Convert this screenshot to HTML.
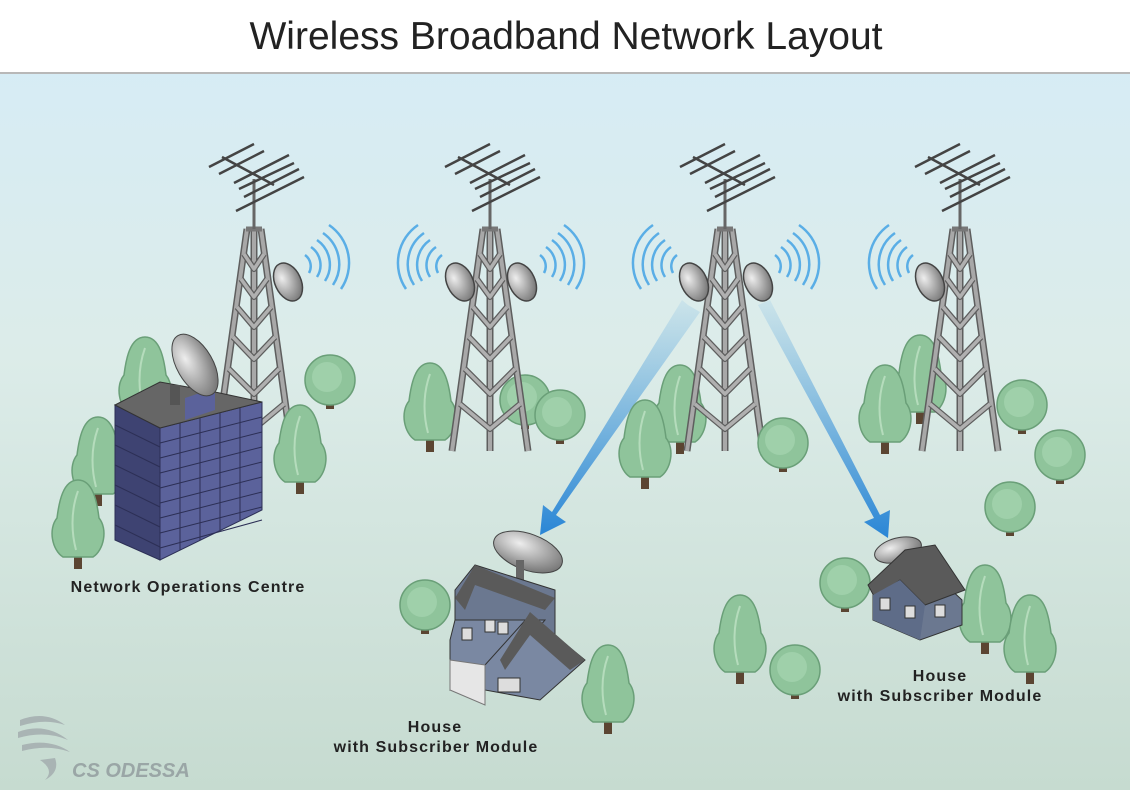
<!DOCTYPE html>
<html><head><meta charset="utf-8"><style>
html,body{margin:0;padding:0;width:1130px;height:790px;overflow:hidden;font-family:"Liberation Sans",sans-serif;}
</style></head><body>
<svg width="1130" height="790" viewBox="0 0 1130 790" xmlns="http://www.w3.org/2000/svg">
<defs>
<linearGradient id="bg" x1="0" y1="0" x2="0" y2="1">
<stop offset="0" stop-color="#d5ecf8"/><stop offset="0.45" stop-color="#dcece9"/><stop offset="1" stop-color="#c6dbd0"/>
</linearGradient>
<linearGradient id="arr" x1="0" y1="0" x2="0" y2="1">
<stop offset="0" stop-color="#3d98dc" stop-opacity="0.1"/><stop offset="1" stop-color="#2a86d6"/>
</linearGradient>
<radialGradient id="dish" cx="0.35" cy="0.35" r="0.8">
<stop offset="0" stop-color="#eee"/><stop offset="1" stop-color="#666"/>
</radialGradient>
<g id="tower" fill="none" stroke-linejoin="round">
<path d="M-7 0 L-38 222 M7 0 L38 222 M0 0 L0 222" stroke="#5e5e5e" stroke-width="7"/>
<path d="M-7 0 L-38 222 M7 0 L38 222 M0 0 L0 222" stroke="#a8a8a8" stroke-width="4"/>
<path d="M-10 25 L0 40 L10 25 M-13 50 L0 68 L13 50 M-17 78 L0 98 L17 78 M-21 108 L0 130 L21 108 M-25 140 L0 165 L25 140 M-30 175 L0 200 L30 175" stroke="#5e5e5e" stroke-width="6"/>
<path d="M-10 25 L0 40 L10 25 M-13 50 L0 68 L13 50 M-17 78 L0 98 L17 78 M-21 108 L0 130 L21 108 M-25 140 L0 165 L25 140 M-30 175 L0 200 L30 175" stroke="#b0b0b0" stroke-width="3.5"/>
<path d="M-8 0 L8 0" stroke="#777" stroke-width="5"/>
<path d="M0 0 L0 -50" stroke="#666" stroke-width="3"/>
<g stroke="#444" stroke-width="2.5">
<path d="M-32 -72 L20 -44"/>
<path d="M-45 -62 L0 -85 M-35 -55 L10 -78 M-20 -46 L35 -74 M-15 -40 L40 -66 M-10 -32 L45 -60 M-18 -18 L50 -52"/>
</g>
</g>
<g id="dishR">
<ellipse cx="0" cy="0" rx="13" ry="20" fill="url(#dish)" stroke="#444" stroke-width="1.5" transform="rotate(-25)"/>
</g>
<g id="waves" fill="none" stroke="#5aaee6" stroke-width="2.5">
<path d="M0 -10 A14 14 0 0 1 4 8"/><path d="M6 -18 A22 22 0 0 1 12 12"/><path d="M12 -25 A30 30 0 0 1 20 16"/><path d="M18 -32 A38 38 0 0 1 28 20"/><path d="M24 -40 A46 46 0 0 1 36 24"/>
</g>
<g id="tree">
<rect x="-4" y="0" width="8" height="14" fill="#5b4532"/>
<path d="M0 -75 C15 -75 19 -53 21 -37 C30 -26 26 -5 15 2 L-15 2 C-26 -5 -30 -26 -21 -37 C-19 -53 -15 -75 0 -75Z" fill="#8fc49b" stroke="#6a9f78" stroke-width="1.5"/>
<path d="M0 -64 C-8 -42 -6 -20 -2 -5" stroke="#b5dcbc" stroke-width="2" fill="none"/>
</g>
<g id="bush">
<rect x="-4" y="10" width="8" height="14" fill="#5b4532"/>
<circle cx="0" cy="-5" r="25" fill="#8fc49b" stroke="#6a9f78" stroke-width="1.5"/>
<circle cx="-3" cy="-8" r="15" fill="#9fd0aa"/>
</g>
</defs>
<rect width="1130" height="790" fill="url(#bg)"/>
<rect width="1130" height="72" fill="#fff"/>
<rect y="72" width="1130" height="2" fill="#b8b8b8"/>
<text x="566" y="49" text-anchor="middle" font-size="39" fill="#222">Wireless Broadband Network Layout</text>

<!-- background trees -->
<use href="#tree" x="145" y="412"/>
<use href="#bush" x="330" y="385"/>
<use href="#tree" x="430" y="438"/>
<use href="#bush" x="525" y="405"/>
<use href="#bush" x="560" y="420"/>
<use href="#tree" x="680" y="440"/>
<use href="#tree" x="920" y="410"/>
<use href="#tree" x="885" y="440"/>

<!-- towers -->
<use href="#tower" x="254" y="229"/>
<use href="#tower" x="490" y="229"/>
<use href="#tower" x="725" y="229"/>
<use href="#tower" x="960" y="229"/>

<!-- dishes & waves -->
<use href="#dishR" x="288" y="282"/>
<use href="#waves" x="305" y="265"/>
<use href="#dishR" x="460" y="282"/>
<use href="#dishR" x="522" y="282"/>
<use href="#waves" x="540" y="265"/>
<use href="#waves" x="442" y="265" transform="translate(884 0) scale(-1 1)"/>
<use href="#dishR" x="694" y="282"/>
<use href="#dishR" x="758" y="282"/>
<use href="#waves" x="775" y="265"/>
<use href="#waves" x="677" y="265" transform="translate(1354 0) scale(-1 1)"/>
<use href="#dishR" x="930" y="282"/>
<use href="#waves" x="913" y="265" transform="translate(1826 0) scale(-1 1)"/>

<!-- arrows -->
<path d="M688 305 L700 312 L556 515 L566 522 L540 535 L543 505 L552 512 L682 300Z" fill="url(#arr)"/>
<path d="M758 305 L770 300 L880 515 L890 510 L888 538 L864 522 L874 518 Z" fill="url(#arr)"/>

<!-- front trees -->
<use href="#tree" x="98" y="492"/>
<use href="#tree" x="78" y="555"/>
<use href="#tree" x="300" y="480"/>
<use href="#tree" x="645" y="475"/>
<use href="#bush" x="783" y="448"/>
<use href="#bush" x="1022" y="410"/>
<use href="#bush" x="1060" y="460"/>
<use href="#bush" x="1010" y="512"/>
<use href="#bush" x="845" y="588"/>
<use href="#tree" x="985" y="640"/>
<use href="#tree" x="1030" y="670"/>
<use href="#tree" x="740" y="670"/>
<use href="#bush" x="795" y="675"/>
<use href="#bush" x="425" y="610"/>
<use href="#tree" x="608" y="720"/>

<!-- building -->
<g>
<polygon points="115,405 160,428 160,560 115,540" fill="#3e4372" stroke="#2c2f55"/>
<polygon points="160,428 262,402 262,510 160,560" fill="#5b629b" stroke="#2c2f55"/>
<g stroke="#2c2f55" stroke-width="1">
<path d="M160 443 L262 417 M160 458 L262 432 M160 473 L262 447 M160 488 L262 462 M160 503 L262 477 M160 518 L262 492 M160 533 L262 507 M160 548 L262 520"/>
<path d="M180 423 L180 550 M200 418 L200 540 M220 413 L220 530 M240 408 L240 520"/>
<path d="M115 425 L160 447 M115 445 L160 467 M115 465 L160 487 M115 485 L160 507 M115 505 L160 527 M115 525 L160 547"/>
</g>
<polygon points="115,405 160,382 215,392 262,402 160,428" fill="#666" stroke="#333"/>
<polygon points="185,398 215,388 215,410 185,420" fill="#5b629b"/>
<ellipse cx="195" cy="365" rx="18" ry="34" fill="url(#dish)" stroke="#444" transform="rotate(-30 195 365)"/>
<rect x="170" y="385" width="10" height="20" fill="#555"/>
</g>
<g font-weight="bold" fill="#222" font-size="16" letter-spacing="1.1" text-anchor="middle">
<text x="188" y="592">Network Operations Centre</text>
<text x="435" y="732">House</text>
<text x="436" y="752">with Subscriber Module</text>
<text x="940" y="681">House</text>
<text x="940" y="701">with Subscriber Module</text>
</g>

<!-- house 1 -->
<g>
<ellipse cx="528" cy="552" rx="36" ry="18" fill="url(#dish)" stroke="#444" transform="rotate(20 528 552)"/>
<rect x="516" y="560" width="8" height="26" fill="#666"/>
<polygon points="455,590 475,565 555,590 555,640 455,650" fill="#6b7890" stroke="#333"/>
<polygon points="455,598 475,565 555,598 545,610 475,585 465,610" fill="#5a5a5a"/>
<polygon points="450,640 455,620 545,620 520,650 450,690" fill="#7a88a2" stroke="#333"/>
<polygon points="485,665 530,615 585,660 540,700 485,690" fill="#7a88a2" stroke="#333"/>
<polygon points="500,660 530,612 585,660 570,670 530,635 505,670" fill="#5a5a5a"/>
<polygon points="450,660 485,665 485,705 450,690" fill="#e6e6e6" stroke="#777"/>
<g fill="#ddd" stroke="#333"><rect x="485" y="620" width="10" height="12"/><rect x="498" y="622" width="10" height="12"/><rect x="498" y="678" width="22" height="14"/><rect x="462" y="628" width="10" height="12"/></g>
</g>

<!-- house 2 -->
<g>
<ellipse cx="898" cy="550" rx="24" ry="12" fill="url(#dish)" stroke="#444" transform="rotate(-15 898 550)"/>
<polygon points="873,595 930,570 962,600 962,625 920,640 873,620" fill="#6b7890" stroke="#333"/>
<polygon points="868,585 905,550 935,545 965,590 925,605 900,580 875,598" fill="#5a5a5a" stroke="#333"/>
<polygon points="873,595 900,580 925,605 920,640 873,620" fill="#5e6c88"/>
<g fill="#ddd" stroke="#333"><rect x="880" y="598" width="10" height="12"/><rect x="905" y="606" width="10" height="12"/><rect x="935" y="605" width="10" height="12"/></g>
</g>

<!-- logo -->
<g fill="#a9b4b4">
<path d="M20 720 Q45 710 65 725 Q45 718 20 726Z"/><path d="M18 732 Q45 722 68 740 Q45 730 18 738Z"/><path d="M22 745 Q50 738 70 752 Q48 744 22 751Z"/>
<path d="M40 760 Q55 770 45 780 Q60 772 55 758Z"/>
</g>
<text x="72" y="777" font-size="20" font-weight="bold" font-style="italic" fill="#9aa6a6">CS ODESSA</text>
</svg>
</body></html>
